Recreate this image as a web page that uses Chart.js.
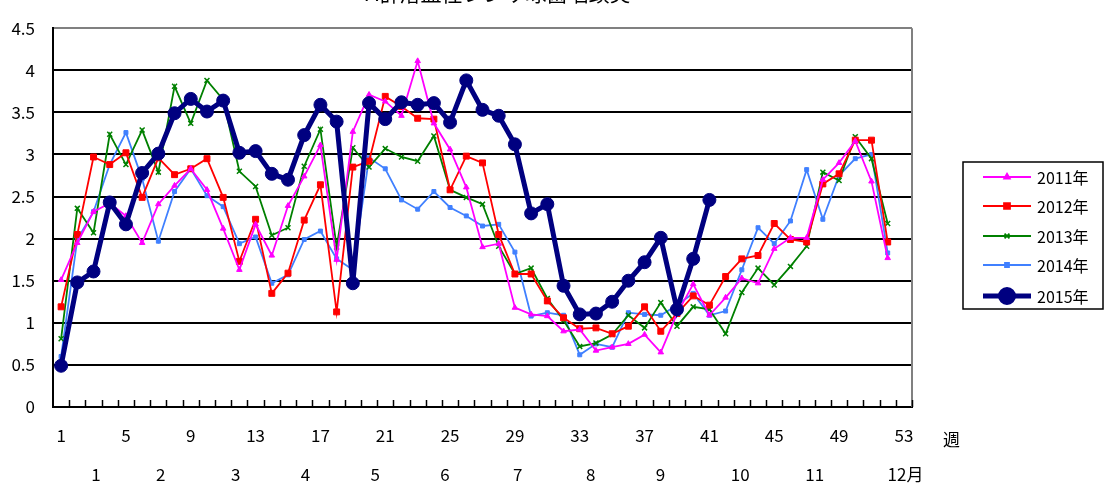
<!DOCTYPE html>
<html>
<head>
<meta charset="utf-8">
<script src="https://cdn.jsdelivr.net/npm/chart.js@4"></script>
<style>
  html, body { margin: 0; padding: 0; background: #fff; }
  #wrap { width: 1104px; height: 486px; }
</style>
</head>
<body>
<div id="wrap"><canvas id="chart" width="1104" height="486"></canvas></div>
<script>
// week numbers 1..53 on the x axis
const weeks = ["1","2","3","4","5","6","7","8","9","10","11","12","13","14","15","16","17","18","19","20",
  "21","22","23","24","25","26","27","28","29","30","31","32","33","34","35","36","37","38","39","40",
  "41","42","43","44","45","46","47","48","49","50","51","52","53"];

const y2011 = [1.51,1.95,2.32,2.42,2.27,1.95,2.41,2.63,2.83,2.58, 2.12,1.63,2.17,1.80,2.39,2.74,3.11,1.75,3.27,3.71,
  3.63,3.46,4.11,3.37,3.06,2.61,1.90,1.94,1.18,1.10, 1.08,0.90,0.92,0.67,0.71,0.75,0.86,0.65,1.11,1.46,
  1.09,1.30,1.53,1.47,1.88,2.01,2.01,2.70,2.90,3.16,2.68,1.77];
const y2012 = [1.19,2.05,2.97,2.88,3.02,2.49,2.96,2.76,2.83,2.95, 2.49,1.73,2.23,1.35,1.59,2.22,2.64,1.13,2.85,2.92,
  3.69,3.57,3.43,3.42,2.58,2.98,2.90,2.05,1.58,1.58, 1.26,1.06,0.93,0.94,0.87,0.96,1.19,0.90,1.11,1.32,
  1.21,1.55,1.76,1.80,2.18,1.99,1.96,2.65,2.77,3.17,3.17,1.96];
const y2013 = [0.81,2.36,2.07,3.24,2.88,3.29,2.79,3.81,3.37,3.88, 3.65,2.80,2.62,2.04,2.13,2.86,3.30,1.90,3.08,2.85,
  3.07,2.97,2.92,3.22,2.58,2.49,2.41,1.91,1.58,1.65, 1.29,1.03,0.72,0.76,0.86,1.09,0.94,1.24,0.96,1.19,
  1.16,0.87,1.36,1.65,1.45,1.67,1.91,2.79,2.69,3.21,2.95,2.18];
const y2014 = [0.60,1.99,2.32,2.88,3.26,2.71,1.97,2.56,2.83,2.51, 2.38,1.94,2.02,1.47,1.57,1.99,2.09,1.76,1.63,2.96,
  2.83,2.46,2.35,2.56,2.37,2.27,2.15,2.17,1.84,1.08, 1.12,1.09,0.62,0.75,0.71,1.12,1.10,1.09,1.21,1.35,
  1.09,1.14,1.63,2.13,1.94,2.21,2.82,2.23,2.75,2.95,3.00,1.83];
const y2015 = [0.49,1.48,1.61,2.43,2.17,2.78,3.01,3.49,3.66,3.51, 3.64,3.02,3.04,2.77,2.70,3.23,3.59,3.39,1.47,3.61,
  3.42,3.62,3.59,3.61,3.38,3.88,3.53,3.46,3.12,2.30, 2.41,1.44,1.10,1.11,1.25,1.50,1.72,2.01,1.16,1.76,
  2.46];

const yTicks = [0,0.5,1,1.5,2,2.5,3,3.5,4,4.5];
// month labels under the week axis, placed at week positions
const monthLabels = ["1","2","3","4","5","6","7","8","9","10","11","12月"];
const monthWeeks = [3.15,7.15,11.77,16.08,20.38,24.69,29.18,33.68,37.98,42.9,47.5,53.1];

const titleText = "A群溶血性レンサ球菌咽頭炎";
const FONT = "'Noto Sans CJK JP', 'Noto Sans', sans-serif";

function line(label, data, color, width, style, radius, order) {
  return {
    label: label, data: data, borderColor: color, backgroundColor: color,
    borderWidth: width, pointStyle: style, pointRadius: radius,
    pointBorderColor: color, pointBackgroundColor: color,
    pointBorderWidth: style === "crossRot" ? 1.5 : 1,
    tension: 0, fill: false, order: order
  };
}

const extras = {
  id: "extras",
  afterDraw(chart) {
    const ctx = chart.ctx;
    const a = chart.chartArea;
    const xs = chart.scales.x;
    ctx.save();
    // title, mostly cut off at the top edge
    ctx.fillStyle = "#000";
    ctx.font = "21px " + FONT;
    ctx.textAlign = "center";
    ctx.textBaseline = "ideographic";
    ctx.fillText(titleText, 498, 4);

    // right grey border of the plot
    ctx.strokeStyle = "#808080";
    ctx.lineWidth = 2;
    ctx.beginPath();
    ctx.moveTo(a.right, a.top);
    ctx.lineTo(a.right, a.bottom);
    ctx.stroke();

    // small inward tick marks between weeks
    ctx.strokeStyle = "#000";
    ctx.lineWidth = 1.5;
    const half = (xs.getPixelForValue(1) - xs.getPixelForValue(0)) / 2;
    for (let i = 1; i <= weeks.length; i++) {
      const x = Math.round(xs.getPixelForValue(i - 1) + half) + 0.5;
      ctx.beginPath();
      ctx.moveTo(x, a.bottom);
      ctx.lineTo(x, a.bottom - 7);
      ctx.stroke();
    }

    // 週 label
    ctx.font = "17px " + FONT;
    ctx.textAlign = "left";
    ctx.textBaseline = "middle";
    ctx.fillText("週", 943, 440);

    // legend
    const lx = 963, ly = 162, lw = 140, lh = 147;
    ctx.strokeStyle = "#000";
    ctx.lineWidth = 1.5;
    ctx.strokeRect(lx, ly, lw, lh);
    const rows = [177, 206, 236, 265, 296];
    ctx.font = "16px " + FONT;
    chart.data.datasets.forEach(function (ds, i) {
      const yy = rows[i];
      ctx.strokeStyle = ds.borderColor;
      ctx.lineWidth = ds.borderWidth;
      ctx.beginPath();
      ctx.moveTo(983, yy);
      ctx.lineTo(1031, yy);
      ctx.stroke();
      ctx.fillStyle = ds.borderColor;
      Chart.helpers.drawPoint(ctx, {
        pointStyle: ds.pointStyle, radius: ds.pointRadius,
        borderWidth: ds.pointBorderWidth, rotation: 0
      }, 1007, yy);
      ctx.fillStyle = "#000";
      ctx.fillText(ds.label, 1037, yy + 1);
    });
    ctx.restore();
  }
};

new Chart(document.getElementById("chart").getContext("2d"), {
  type: "line",
  data: {
    labels: weeks,
    datasets: [
      line("2011年", y2011, "#FF00FF", 1.8, "triangle", 3.2, 1),
      line("2012年", y2012, "#FF0000", 1.8, "rect", 4.2, 1),
      line("2013年", y2013, "#008000", 1.8, "crossRot", 3.5, 1),
      line("2014年", y2014, "#4080FF", 1.8, "rect", 2.8, 1),
      line("2015年", y2015, "#000080", 5, "circle", 6.5, 0)
    ]
  },
  options: {
    responsive: false,
    animation: false,
    events: [],
    layout: { padding: { top: 19, right: 192, left: 0, bottom: 0 } },
    plugins: { legend: { display: false }, tooltip: { enabled: false } },
    scales: {
      y: {
        min: 0, max: 4.5,
        afterFit(s) { s.width = 53; },
        afterBuildTicks(s) { s.ticks = yTicks.map(v => ({ value: v })); },
        grid: {
          drawTicks: false, lineWidth: 2,
          color: ctx => (ctx.tick && ctx.tick.value === 4.5) ? "#808080" : "#000"
        },
        border: { display: true, color: "#000", width: 2 },
        ticks: {
          padding: 18, color: "#000", font: { family: FONT, size: 17 },
          callback: v => String(v)
        }
      },
      x: {
        type: "category",
        offset: true,
        afterFit(s) { s.height = 44; },
        grid: { display: false, drawTicks: false },
        border: { display: true, color: "#000", width: 2 },
        ticks: {
          autoSkip: false, maxRotation: 0, padding: 18, color: "#000",
          font: { family: FONT, size: 17 },
          callback: (v, i) => (i % 4 === 0 ? weeks[i] : "")
        }
      },
      x2: {
        type: "linear",
        position: "bottom",
        min: 0.5, max: 53.5,
        afterFit(s) { s.height = 35; },
        afterBuildTicks(s) { s.ticks = monthWeeks.map(v => ({ value: v })); },
        grid: { display: false, drawTicks: false },
        border: { display: false },
        ticks: {
          autoSkip: false, maxRotation: 0, padding: 13, color: "#000",
          font: { family: FONT, size: 17 },
          callback: (v, i) => monthLabels[i]
        }
      }
    }
  },
  plugins: [extras]
});
</script>
</body>
</html>
